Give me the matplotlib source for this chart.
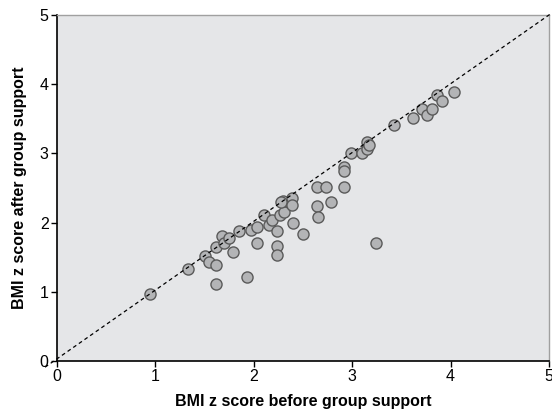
import numpy as np
import matplotlib.pyplot as plt

plt.rcParams['font.family'] = ['Liberation Sans', 'DejaVu Sans']

# BMI z score before / after group support
bmi_before = [0.95, 1.33, 1.51, 1.55, 1.62, 1.62, 1.62, 1.68, 1.70, 1.75, 1.79,
              1.85, 1.93, 1.97, 2.03, 2.03, 2.10, 2.16, 2.19, 2.24, 2.24, 2.24,
              2.27, 2.31, 2.30, 2.28, 2.39, 2.39, 2.40, 2.50, 2.64, 2.64, 2.65,
              2.73, 2.79, 2.92, 2.92, 2.92, 2.99, 3.10, 3.15, 3.15, 3.17, 3.24,
              3.43, 3.62, 3.71, 3.76, 3.81, 3.86, 3.91, 4.03]
bmi_after = [0.97, 1.33, 1.52, 1.43, 1.64, 1.39, 1.11, 1.80, 1.71, 1.77, 1.57,
             1.88, 1.21, 1.89, 1.94, 1.71, 2.11, 1.97, 2.03, 1.88, 1.66, 1.53,
             2.11, 2.15, 2.31, 2.29, 2.35, 2.25, 1.99, 1.84, 2.52, 2.24, 2.08,
             2.51, 2.29, 2.80, 2.75, 2.51, 3.00, 3.00, 3.06, 3.17, 3.12, 1.71,
             3.41, 3.51, 3.64, 3.55, 3.64, 3.84, 3.76, 3.89]
ticks = [0, 1, 2, 3, 4, 5]

fig = plt.figure(figsize=(5.52, 4.13), dpi=100)
ax = fig.add_axes([0.103, 0.126, 0.8916, 0.8378])
ax.set_facecolor('#e5e6e8')

ax.scatter(bmi_before, bmi_after, s=64, facecolor='#b3b4b6', edgecolor='#5a5a5a',
           linewidths=1.0, zorder=2)
# line of identity
ax.plot([-0.12, 5.02], [-0.09, 5.02], color='black', lw=0.9, dashes=(3, 2.5),
        zorder=3, clip_on=False)

ax.set_xlim(0, 5)
ax.set_ylim(0, 5)
ax.set_xticks(ticks)
ax.set_yticks(ticks)
ax.tick_params(direction='out', length=4, width=1, labelsize=11.5, pad=2)
for s in ['left', 'bottom']:
    ax.spines[s].set_color('black')
    ax.spines[s].set_linewidth(1.2)
for s in ['top', 'right']:
    ax.spines[s].set_color('#a0a0a0')
    ax.spines[s].set_linewidth(1.0)

ax.set_xlabel('BMI z score before group support', fontweight='bold',
              fontsize=11.5, labelpad=7)
ax.set_ylabel('BMI z score after group support', fontweight='bold',
              fontsize=11.5, labelpad=9)

fig.savefig('out.png', dpi=100)
